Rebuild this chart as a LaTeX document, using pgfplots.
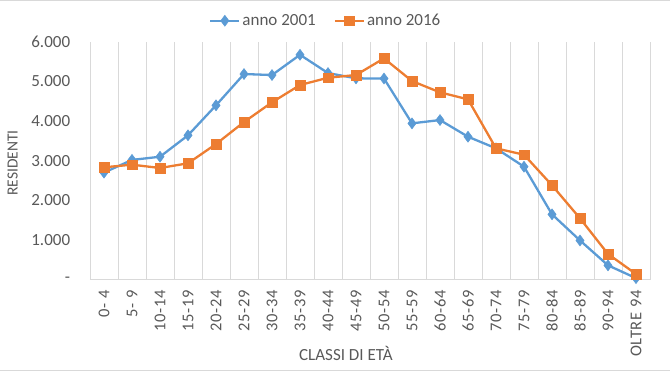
\documentclass[border=0pt]{standalone}
\usepackage{pgfplots}
\pgfplotsset{compat=1.18}
\usepackage{fontspec}
\setmainfont{Carlito}
\definecolor{xblue}{HTML}{5B9BD5}
\definecolor{xorange}{HTML}{ED7D31}
\definecolor{xgrid}{HTML}{D9D9D9}
\definecolor{xtext}{HTML}{595959}
\begin{document}
\fontsize{17}{20}\selectfont
\begin{tikzpicture}
\path[use as bounding box] (0,0) rectangle (670pt,-372pt);
\draw[xgrid, line width=1pt] (0,-0.5pt) -- (670pt,-0.5pt);
\draw[xgrid, line width=1pt] (0,-370.5pt) -- (670pt,-370.5pt);
\begin{axis}[
  at={(90pt,-279.7pt)}, anchor=south west,
  scale only axis, width=560pt, height=238pt,
  xmin=-0.5, xmax=19.5, ymin=0, ymax=6000,
  axis x line=bottom, axis y line=left,
  axis line style={-},
  x axis line style={xgrid, line width=0.8pt},
  y axis line style={draw=none},
  xtick={0,...,19},
  xticklabels={0- 4,5- 9,10-14,15-19,20-24,25-29,30-34,35-39,40-44,45-49,50-54,55-59,60-64,65-69,70-74,75-79,80-84,85-89,90-94,OLTRE 94},
  minor xtick={-0.5,0.5,...,19.5},
  minor x grid style={xgrid, line width=0.8pt},
  xminorgrids=true,
  major tick length=0pt, minor tick length=0pt,
  ytick={0,1000,...,6000},
  yticklabels={-,1.000,2.000,3.000,4.000,5.000,6.000},
  tick label style={font=\fontsize{17}{20}\selectfont, text=xtext},
  xticklabel style={yshift=-5pt, rotate=90, anchor=east, font=\fontsize{16.5}{20}\selectfont\addfontfeature{LetterSpace=4}},
  yticklabel style={anchor=east, xshift=-14pt},
  xlabel={CLASSI DI ETÀ}, ylabel={RESIDENTI},
  label style={text=xtext},
  xlabel style={at={(rel axis cs:0.457,-0.310)}, anchor=center, font=\fontsize{17}{20}\selectfont},
  ylabel style={at={(rel axis cs:-0.138,0.49)}, anchor=center, rotate=0, font=\fontsize{15.5}{18}\selectfont},
  legend columns=2,
  legend style={draw=none, fill=none, at={(rel axis cs:0.421,1.088)}, anchor=center,
    font=\fontsize{17}{20}\selectfont, text=xtext,
    /tikz/every even column/.append style={column sep=16pt}},
  legend image code/.code={\draw[mark repeat=2,mark phase=2,#1] plot coordinates {(0pt,0pt) (14.5pt,0pt) (29pt,0pt)};},
  clip=false,
]
\addplot[xblue, line width=2.3pt, mark=diamond*, mark size=5.5pt, mark options={fill=xblue, draw=xblue, line width=0.5pt}]
coordinates {(0,2700) (1,3020) (2,3100) (3,3640) (4,4396) (5,5185) (6,5160) (7,5670) (8,5210) (9,5076) (10,5072) (11,3942) (12,4025) (13,3605) (14,3312) (15,2849) (16,1648) (17,990) (18,362) (19,40)};
\addlegendentry{anno 2001}
\addplot[xorange, line width=2.3pt, mark=square*, mark size=4.8pt, mark options={fill=xorange, draw=xorange, line width=0.5pt}]
coordinates {(0,2833) (1,2900) (2,2816) (3,2934) (4,3420) (5,3975) (6,4472) (7,4908) (8,5092) (9,5160) (10,5580) (11,5008) (12,4723) (13,4547) (14,3312) (15,3151) (16,2380) (17,1547) (18,648) (19,143)};
\addlegendentry{anno 2016}
\end{axis}
\end{tikzpicture}
\end{document}
